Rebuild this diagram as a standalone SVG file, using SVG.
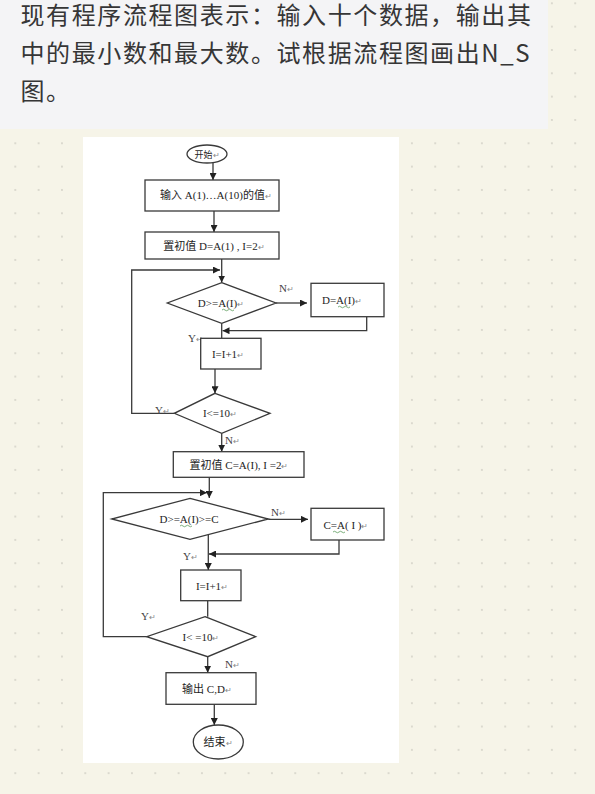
<svg xmlns="http://www.w3.org/2000/svg" width="595" height="794" viewBox="0 0 595 794">
<defs>
<pattern id="dots" x="3.63" y="-8.37" width="23.33" height="23.33" patternUnits="userSpaceOnUse">
<circle cx="11.67" cy="11.67" r="1" fill="#d2d0c6"/>
</pattern>
<marker id="arr" viewBox="0 0 8 8" refX="8" refY="4" markerWidth="7" markerHeight="7" markerUnits="userSpaceOnUse" orient="auto">
<path d="M0,0 L8,4 L0,8 z" fill="#222"/>
</marker>
<style>
.shape{fill:#fff;stroke:#3a3a3a;stroke-width:1.3}
.ln{fill:none;stroke:#3a3a3a;stroke-width:1.3}
.t{font-family:"Liberation Serif","Noto Sans CJK SC",serif;font-size:11px;fill:#1e1e1e;text-anchor:middle}
.lbl{font-family:"Liberation Serif","Noto Sans CJK SC",serif;font-size:11px;fill:#444}
.rm{fill:#888;font-size:8px}
.q{font-family:"Noto Sans CJK SC","Noto Sans",sans-serif;font-size:24px;fill:#363636;letter-spacing:1.6px}
.wav{fill:none;stroke:#5a9a5a;stroke-width:0.8}
</style>
</defs>
<rect x="0" y="0" width="595" height="794" fill="#f6f4e8"/>
<rect x="0" y="0" width="595" height="794" fill="url(#dots)"/>
<rect id="panel" x="0" y="0" width="548" height="129" fill="#f4f4f6"/>
<g id="question">
<text class="q" x="20.5" y="23.5">现有程序流程图表示：输入十个数据，输出其</text>
<text class="q" x="20.5" y="61.5">中的最小数和最大数。试根据流程图画出N_S</text>
<text class="q" x="20.5" y="100">图。</text>
</g>
<rect id="sheet" x="83" y="137" width="316" height="626" fill="#fff"/>

<g id="connectors">
<line class="ln" x1="213" y1="163" x2="213" y2="180" marker-end="url(#arr)"/>
<line class="ln" x1="214" y1="211" x2="214" y2="232" marker-end="url(#arr)"/>
<line class="ln" x1="221.7" y1="259" x2="221.7" y2="282.5" marker-end="url(#arr)"/>
<polyline class="ln" points="174.3,413.3 131.7,413.3 131.7,270 220,270" marker-end="url(#arr)"/>
<line class="ln" x1="276" y1="303" x2="307" y2="303" marker-end="url(#arr)"/>
<polyline class="ln" points="366.7,316.7 366.7,330.7 222.5,330.7" marker-end="url(#arr)"/>
<line class="ln" x1="221.7" y1="323.3" x2="221.7" y2="338.3"/>
<line class="ln" x1="215" y1="369" x2="215" y2="393.3" marker-end="url(#arr)"/>
<line class="ln" x1="221.7" y1="433.3" x2="221.7" y2="451.7" marker-end="url(#arr)"/>
<line class="ln" x1="209.3" y1="477.3" x2="209.3" y2="498" marker-end="url(#arr)"/>
<polyline class="ln" points="146.7,636.7 103.3,636.7 103.3,492.7 207,492.7" marker-end="url(#arr)"/>
<line class="ln" x1="268.3" y1="519.3" x2="308" y2="519.3" marker-end="url(#arr)"/>
<polyline class="ln" points="339,540 339,554 209,554" marker-end="url(#arr)"/>
<line class="ln" x1="208.3" y1="535" x2="208.3" y2="570" marker-end="url(#arr)"/>
<line class="ln" x1="207.7" y1="600.7" x2="207.7" y2="616.7"/>
<line class="ln" x1="207.7" y1="656.7" x2="207.7" y2="672.7" marker-end="url(#arr)"/>
<line class="ln" x1="214.3" y1="704.3" x2="214.3" y2="725" marker-end="url(#arr)"/>
<text class="lbl" x="279" y="292">N<tspan class="rm">↵</tspan></text>
<text class="lbl" x="188" y="342">Y<tspan class="rm">↵</tspan></text>
<text class="lbl" x="155" y="414">Y<tspan class="rm">↵</tspan></text>
<text class="lbl" x="225" y="444">N<tspan class="rm">↵</tspan></text>
<text class="lbl" x="271" y="516">N<tspan class="rm">↵</tspan></text>
<text class="lbl" x="183" y="560">Y<tspan class="rm">↵</tspan></text>
<text class="lbl" x="141" y="620">Y<tspan class="rm">↵</tspan></text>
<text class="lbl" x="225" y="668">N<tspan class="rm">↵</tspan></text>
</g>

<g id="start">
<ellipse class="shape" cx="207" cy="154" rx="20" ry="9"/>
<text class="t" x="207" y="157.5" style="font-size:9px">开始<tspan class="rm">↵</tspan></text>
</g>
<g id="input">
<rect class="shape" x="145" y="180" width="134" height="31"/>
<text class="t" x="216" y="199">输入 A(1)…A(10)的值<tspan class="rm">↵</tspan></text>
</g>
<g id="initD">
<rect class="shape" x="145" y="232" width="134" height="27"/>
<text class="t" x="214" y="249.5">置初值 D=A(1)   , I=2<tspan class="rm">↵</tspan></text>
</g>
<g id="cmpD">
<polygon class="shape" points="221.7,282.7 276,303 221.7,323.3 167.3,303"/>
<text class="t" x="221" y="307">D&gt;=A(I)<tspan class="rm">↵</tspan></text>
<path class="wav" d="M222,310 q1.5,-1.5 3,0 t3,0 t3,0 t3,0"/>
</g>
<g id="setD">
<rect class="shape" x="311" y="283.3" width="73" height="33.4"/>
<text class="t" x="342" y="304">D=A(I)<tspan class="rm">↵</tspan></text>
<path class="wav" d="M338,307 q1.5,-1.5 3,0 t3,0 t3,0 t3,0"/>
</g>
<g id="inc1">
<rect class="shape" x="200.7" y="338.3" width="60.3" height="30.7"/>
<text class="t" x="228" y="358">I=I+1<tspan class="rm">↵</tspan></text>
</g>
<g id="loop1">
<polygon class="shape" points="215,393.3 270,413.3 221.7,433.3 174.3,413.3"/>
<text class="t" x="220" y="417">I&lt;=10<tspan class="rm">↵</tspan></text>
</g>
<g id="initC">
<rect class="shape" x="173.3" y="451.7" width="130.7" height="25.6"/>
<text class="t" x="239" y="468.5">置初值 C=A(I),   I =2<tspan class="rm">↵</tspan></text>
</g>
<g id="cmpC">
<polygon class="shape" points="190,498.3 268.3,519 190,539.3 111.7,519"/>
<text class="t" x="189" y="523">D&gt;=A(I)&gt;=C</text>
<path class="wav" d="M180,526 q1.5,-1.5 3,0 t3,0 t3,0 t3,0"/>
</g>
<g id="setC">
<rect class="shape" x="311" y="508.3" width="73" height="31.7"/>
<text class="t" x="346" y="529">C=A( I )<tspan class="rm">↵</tspan></text>
<path class="wav" d="M333,532 q1.5,-1.5 3,0 t3,0 t3,0 t3,0"/>
</g>
<g id="inc2">
<rect class="shape" x="180.7" y="570" width="60.3" height="30.7"/>
<text class="t" x="212" y="590">I=I+1<tspan class="rm">↵</tspan></text>
</g>
<g id="loop2">
<polygon class="shape" points="205,616.7 255.7,636.7 207.7,656.7 146.7,636.7"/>
<text class="t" x="201" y="641">I&lt; =10<tspan class="rm">↵</tspan></text>
</g>
<g id="output">
<rect class="shape" x="166" y="672.7" width="90" height="31.6"/>
<text class="t" x="207" y="693">输出 C,D<tspan class="rm">↵</tspan></text>
</g>
<g id="end">
<ellipse class="shape" cx="218.3" cy="742" rx="25" ry="17"/>
<text class="t" x="218" y="745.5">结束<tspan class="rm">↵</tspan></text>
</g>
</svg>
